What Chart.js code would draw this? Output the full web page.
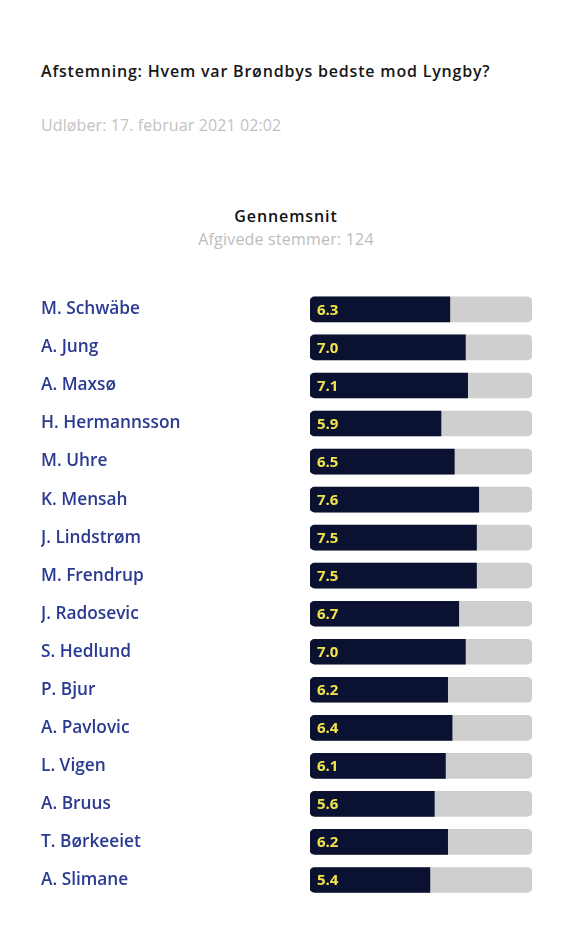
<!DOCTYPE html>
<html>
<head>
<meta charset="utf-8">
<script src="https://cdn.jsdelivr.net/npm/chart.js@4.4.1/dist/chart.umd.min.js"></script>
<style>
  html, body { margin: 0; padding: 0; background: #ffffff; width: 566px; height: 950px; overflow: hidden; }
  body { font-family: "Open Sans", "Lato", sans-serif; position: relative; }
  .t { position: absolute; white-space: nowrap; }
  #title { left: 41px; top: 60px; font-size: 16px; font-weight: 600; color: #161616; letter-spacing: 0.8px; }
  #sub { left: 41px; top: 114px; font-size: 16px; font-weight: 400; color: #c2c2c2; letter-spacing: 0.1px; }
  #avg { left: 0; width: 572px; text-align: center; top: 205px; font-size: 16px; font-weight: 600; color: #111; letter-spacing: 0.9px; }
  #votes { left: 0; width: 572px; text-align: center; top: 228px; font-size: 16px; color: #bdbdbd; letter-spacing: 0.2px; }
  #wrap { position: absolute; left: 0; top: 280px; width: 566px; height: 630px; }
</style>
</head>
<body>
<div class="t" id="title">Afstemning: Hvem var Brøndbys bedste mod Lyngby?</div>
<div class="t" id="sub">Udløber: 17. februar 2021 02:02</div>
<div class="t" id="avg">Gennemsnit</div>
<div class="t" id="votes">Afgivede stemmer: 124</div>
<div id="wrap"><canvas id="c"></canvas></div>
<script>
const players = ["M. Schwäbe","A. Jung","A. Maxsø","H. Hermannsson","M. Uhre","K. Mensah","J. Lindstrøm","M. Frendrup","J. Radosevic","S. Hedlund","P. Bjur","A. Pavlovic","L. Vigen","A. Bruus","T. Børkeeiet","A. Slimane"];
const ratings = [6.3,7.0,7.1,5.9,6.5,7.6,7.5,7.5,6.7,7.0,6.2,6.4,6.1,5.6,6.2,5.4];
const scaleMax = 10;
const trackValues = players.map(() => scaleMax);

const valueLabels = {
  id: 'valueLabels',
  afterDatasetsDraw(chart) {
    const meta = chart.getDatasetMeta(1);
    const ctx = chart.ctx;
    ctx.save();
    ctx.fillStyle = '#f2e34c';
    ctx.font = 'bold 15px "Open Sans", sans-serif';
    ctx.textBaseline = 'middle';
    ctx.textAlign = 'left';
    meta.data.forEach((el, i) => {
      ctx.fillText(ratings[i].toFixed(1), el.base + 7, el.y + 1);
    });
    ctx.restore();
  }
};

new Chart(document.getElementById('c'), {
  type: 'bar',
  data: {
    labels: players,
    datasets: [
      { data: trackValues, backgroundColor: '#cfcfcf', borderRadius: 5, borderSkipped: false, order: 2, barThickness: 25, grouped: false },
      { data: ratings, backgroundColor: '#0b1231', borderRadius: {topLeft: 5, bottomLeft: 5, topRight: 0, bottomRight: 0}, borderSkipped: false, order: 1, barThickness: 25, grouped: false }
    ]
  },
  options: {
    indexAxis: 'y',
    responsive: true,
    maintainAspectRatio: false,
    animation: false,
    layout: { padding: { left: 41, right: 34, top: 8, bottom: 11 } },
    plugins: { legend: { display: false }, tooltip: { enabled: false } },
    scales: {
      x: { min: 0, max: scaleMax, display: false },
      y: {
        grid: { display: false, drawBorder: false },
        border: { display: false },
        ticks: { crossAlign: 'far', color: '#2a3a91', padding: 0, font: { family: '"Open Sans", sans-serif', size: 17.3, weight: '600' } },
        afterFit(axis) { axis.width = 269; }
      }
    }
  },
  plugins: [valueLabels]
});
</script>
</body>
</html>
